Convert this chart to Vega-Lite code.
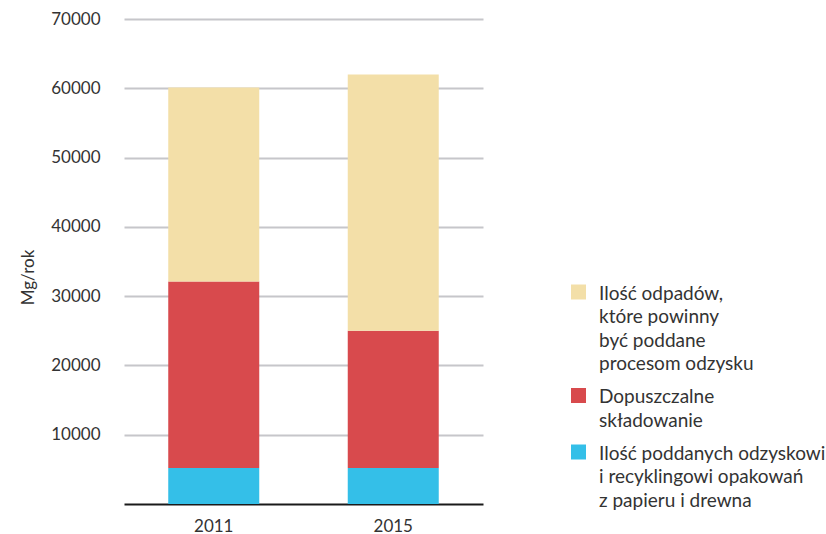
{
  "$schema": "https://vega.github.io/schema/vega-lite/v6.json",
  "width": 359,
  "height": 485,
  "autosize": "none",
  "padding": {"left": 124, "top": 19, "right": 343, "bottom": 30},
  "background": "white",
  "config": {"view": {"stroke": null}, "font": "Lato"},
  "data": {
    "values": [
      {"rok": "2011", "kategoria": "Ilość poddanych odzyskowi i recyklingowi opakowań z papieru i drewna", "kolejnosc": 1, "wartosc": 5200},
      {"rok": "2011", "kategoria": "Dopuszczalne składowanie", "kolejnosc": 2, "wartosc": 26900},
      {"rok": "2011", "kategoria": "Ilość odpadów, które powinny być poddane procesom odzysku", "kolejnosc": 3, "wartosc": 28000},
      {"rok": "2015", "kategoria": "Ilość poddanych odzyskowi i recyklingowi opakowań z papieru i drewna", "kolejnosc": 1, "wartosc": 5200},
      {"rok": "2015", "kategoria": "Dopuszczalne składowanie", "kolejnosc": 2, "wartosc": 19800},
      {"rok": "2015", "kategoria": "Ilość odpadów, które powinny być poddane procesom odzysku", "kolejnosc": 3, "wartosc": 37000}
    ]
  },
  "mark": {"type": "bar"},
  "encoding": {
    "x": {
      "field": "rok",
      "type": "ordinal",
      "scale": {"paddingInner": 0.493, "paddingOuter": 0.2465},
      "axis": {
        "title": null,
        "labelAngle": 0,
        "ticks": false,
        "grid": false,
        "domainColor": "#1a1a1a",
        "domainWidth": 2,
        "labelFontSize": 17,
        "labelColor": "#333333",
        "labelPadding": 14
      }
    },
    "y": {
      "field": "wartosc",
      "type": "quantitative",
      "stack": "zero",
      "scale": {"domain": [0, 70000], "nice": false},
      "axis": {
        "title": "Mg/rok",
        "values": [10000, 20000, 30000, 40000, 50000, 60000, 70000],
        "format": "d",
        "domain": false,
        "ticks": false,
        "gridColor": "#c6c6ca",
        "gridWidth": 2,
        "labelFontSize": 17,
        "labelColor": "#333333",
        "labelPadding": 24,
        "titleFontSize": 17,
        "titleFontWeight": "normal",
        "titleColor": "#333333",
        "titleAngle": -90,
        "titleX": -96,
        "titleY": 258,
        "titleAlign": "center",
        "titleBaseline": "middle"
      }
    },
    "color": {
      "field": "kategoria",
      "type": "nominal",
      "scale": {
        "domain": [
          "Ilość odpadów, które powinny być poddane procesom odzysku",
          "Dopuszczalne składowanie",
          "Ilość poddanych odzyskowi i recyklingowi opakowań z papieru i drewna"
        ],
        "range": ["#f3dfa8", "#d84a4d", "#34bfe8"]
      },
      "legend": {
        "title": null,
        "orient": "none",
        "legendX": 445,
        "legendY": 256,
        "padding": 0,
        "symbolType": "M-1,0H1V2H-1Z",
        "symbolSize": 225,
        "symbolStrokeWidth": 0,
        "symbolOpacity": 1,
        "labelFontSize": 19,
        "labelColor": "#333333",
        "labelBaseline": "top",
        "labelOffset": 11,
        "labelLimit": 0,
        "rowPadding": 3.5,
        "labelExpr": "datum.label == 'Dopuszczalne składowanie' ? ['Dopuszczalne', 'składowanie'] : indexof(datum.label, 'odpadów') >= 0 ? ['Ilość odpadów,', 'które powinny', 'być poddane', 'procesom odzysku'] : ['Ilość poddanych odzyskowi', 'i recyklingowi opakowań', 'z papieru i drewna']",
        "encode": {"labels": {"update": {"lineHeight": {"value": 23.6}}}}
      }
    },
    "order": {"field": "kolejnosc", "type": "quantitative"}
  }
}
